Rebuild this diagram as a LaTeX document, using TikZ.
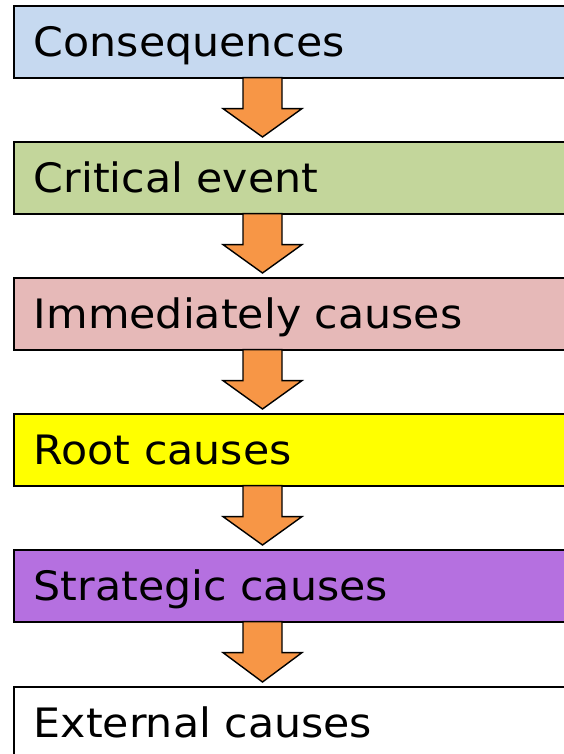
\documentclass[tikz,border=0pt]{standalone}
\usepackage{fontspec}
\setmainfont[FakeStretch=1.055]{DejaVu Sans}
\usetikzlibrary{calc}
\begin{document}
\begin{tikzpicture}[x=1pt,y=-1pt,
  level/.style={draw=black, line width=1.6pt, minimum width=570pt, minimum height=72pt,
    anchor=north west, inner xsep=20pt, text width=530pt, align=left,
    text depth=4pt, text height=34pt,
    font=\fontsize{40.5}{44}\selectfont},
  flow/.style={fill=arrowc, draw=black, line width=1.4pt, line join=miter}]
\definecolor{c1}{HTML}{C6D9F0}
\definecolor{c2}{HTML}{C3D69B}
\definecolor{c3}{HTML}{E6B9B8}
\definecolor{c4}{HTML}{FFFF00}
\definecolor{c5}{HTML}{B570E0}
\definecolor{arrowc}{HTML}{F79646}
\useasboundingbox (0,0) rectangle (564,754);
\clip (0,0) rectangle (564,754);
\node[level, fill=c1] (b1) at (13,5) {Consequences};
\node[level, fill=c2] (b2) at (13,141) {Critical event};
\node[level, fill=c3] (b3) at (13,277) {Immediately causes};
\node[level, fill=c4] (b4) at (13,413) {Root causes};
\node[level, fill=c5] (b5) at (13,549) {Strategic causes};
\node[level, fill=white] (b6) at (13,686) {External causes};
% block arrows between consecutive levels
\foreach \a/\b in {b1/b2,b2/b3,b3/b4,b4/b5,b5/b6}{
  \path (\a.south west) ++(249.5,0) coordinate (top-\a);
  \path (\b.north west) ++(249.5,0) coordinate (tip-\a);
  \draw[flow] ($(top-\a)+(-19.5,-1)$) -- ($(top-\a)+(19.5,-1)$) -- ($(top-\a)+(19.5,30)$)
    -- ($(top-\a)+(39.5,30)$) -- ($(tip-\a)+(0,-4)$) -- ($(top-\a)+(-39.5,30)$)
    -- ($(top-\a)+(-19.5,30)$) -- cycle;
}
\end{tikzpicture}
\end{document}
